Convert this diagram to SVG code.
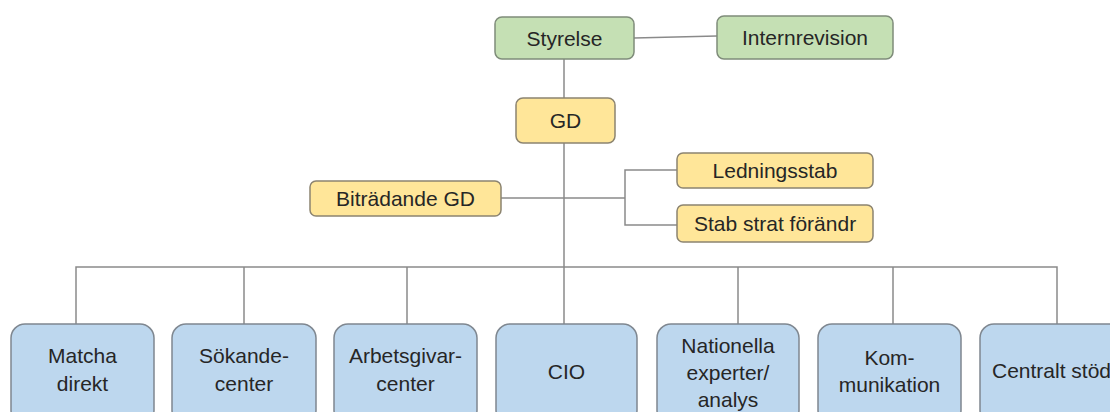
<svg xmlns="http://www.w3.org/2000/svg" width="1110" height="412" viewBox="0 0 1110 412">
<style>
.g{fill:#c5e0b4;stroke:#7f8c7a;stroke-width:1.5}
.y{fill:#ffe699;stroke:#8c8470;stroke-width:1.5}
.b{fill:#bdd7ee;stroke:#7f8790;stroke-width:1.5}
.c{fill:none;stroke:#8a8a8a;stroke-width:1.5}
text{font-family:"Liberation Sans",Arial,sans-serif;font-size:21px;fill:#262626;text-anchor:middle;dominant-baseline:central}
</style>
<rect width="1110" height="412" fill="#ffffff"/>
<g id="connectors">
<path class="c" d="M634,38 L717,36"/>
<path class="c" d="M564,59 V98 M564,143 V267"/>
<path class="c" d="M501,198 H625 M677,170 H625 V225 H677"/>
<path class="c" d="M76,324 V267 H1057 V324 M244,267 V324 M407,267 V324 M564,267 V324 M738,267 V324 M893,267 V324"/>
</g>
<g id="styrelse"><rect class="g" x="495" y="17" width="139" height="42" rx="7"/><text x="564.5" y="38">Styrelse</text></g>
<g id="internrevision"><rect class="g" x="717" y="16" width="176" height="43" rx="7"/><text x="805" y="37.5">Internrevision</text></g>
<g id="gd"><rect class="y" x="516" y="98" width="99" height="45" rx="7"/><text x="565.5" y="120.5">GD</text></g>
<g id="bitradande"><rect class="y" x="310" y="181" width="191" height="35" rx="6"/><text x="405.5" y="198.5">Biträdande GD</text></g>
<g id="ledningsstab"><rect class="y" x="677" y="153" width="196" height="35" rx="6"/><text x="775" y="170.5">Ledningsstab</text></g>
<g id="stabstrat"><rect class="y" x="677" y="205" width="196" height="37" rx="6"/><text x="775" y="223.5">Stab strat förändr</text></g>
<g id="matcha"><rect class="b" x="11" y="324" width="143" height="100" rx="14"/><text x="82.5" y="355">Matcha</text><text x="82.5" y="383">direkt</text></g>
<g id="sokande"><rect class="b" x="172" y="324" width="144" height="100" rx="14"/><text x="244" y="355">Sökande-</text><text x="244" y="383">center</text></g>
<g id="arbetsgivar"><rect class="b" x="334" y="324" width="143" height="100" rx="14"/><text x="405.5" y="355">Arbetsgivar-</text><text x="405.5" y="383">center</text></g>
<g id="cio"><rect class="b" x="496" y="324" width="141" height="100" rx="14"/><text x="566.5" y="371">CIO</text></g>
<g id="nationella"><rect class="b" x="657" y="324" width="142" height="100" rx="14"/><text x="728" y="345">Nationella</text><text x="728" y="372">experter/</text><text x="728" y="399">analys</text></g>
<g id="kommunikation"><rect class="b" x="818" y="324" width="143" height="100" rx="14"/><text x="889.5" y="357">Kom-</text><text x="889.5" y="384">munikation</text></g>
<g id="centralt"><rect class="b" x="980" y="324" width="143" height="100" rx="14"/><text x="1051.5" y="370">Centralt stöd</text></g>
</svg>
